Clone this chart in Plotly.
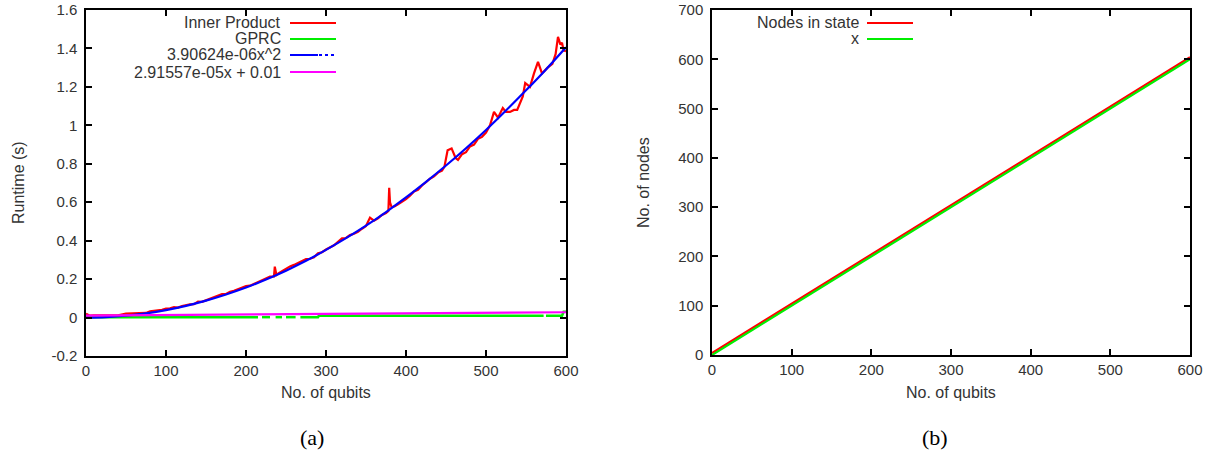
import plotly.graph_objects as go

W, H = 1217, 456

# ---------------- Panel (a) data ----------------
ip_x = [0, 5, 10, 20, 30, 40, 50, 55, 60, 65, 70, 75, 80, 85, 90, 95, 100, 105, 110, 115, 120, 125,
        130, 135, 140, 145, 150, 155, 160, 165, 170, 175, 180, 185, 190, 195, 200, 205, 210, 215,
        220, 225, 230, 235, 236, 238, 240, 245, 250, 255, 260, 265, 270, 275, 280, 285, 290, 295,
        300, 305, 310, 315, 320, 325, 330, 335, 340, 345, 350, 355, 360, 365, 370, 375, 378, 379,
        380, 382, 386, 390, 395, 400, 405, 410, 415, 420, 425, 430, 435, 440, 445, 448, 452, 457,
        462, 465, 470, 475, 480, 485, 490, 495, 500, 505, 510, 515, 521, 525, 530, 535, 539, 546,
        549, 555, 560, 565, 570, 577, 583, 587, 590, 593, 595, 597, 600]
ip_y = [0.02, 0.01, 0.011, 0.011, 0.012, 0.012, 0.02, 0.021, 0.021, 0.022, 0.022, 0.024, 0.032, 0.034,
        0.038, 0.04, 0.046, 0.048, 0.054, 0.052, 0.06, 0.065, 0.069, 0.07, 0.083, 0.082, 0.09, 0.098,
        0.104, 0.111, 0.122, 0.123, 0.134, 0.139, 0.146, 0.153, 0.164, 0.166, 0.175, 0.183, 0.194, 0.203,
        0.213, 0.214, 0.265, 0.222, 0.229, 0.241, 0.254, 0.266, 0.274, 0.284, 0.29, 0.304, 0.306, 0.314,
        0.334, 0.34, 0.354, 0.364, 0.376, 0.394, 0.412, 0.414, 0.429, 0.436, 0.446, 0.462, 0.476, 0.52,
        0.504, 0.516, 0.534, 0.544, 0.554, 0.675, 0.6, 0.574, 0.579, 0.589, 0.602, 0.616, 0.634, 0.656,
        0.664, 0.687, 0.704, 0.722, 0.734, 0.754, 0.764, 0.784, 0.87, 0.88, 0.83, 0.82, 0.85, 0.86,
        0.89, 0.9, 0.93, 0.94, 0.962, 1.0, 1.07, 1.04, 1.09, 1.07, 1.07, 1.08, 1.08, 1.15, 1.22, 1.2,
        1.27, 1.33, 1.27, 1.3, 1.32, 1.37, 1.46, 1.42, 1.43, 1.39, 1.385]

gprc_x = [0, 40, 80, 120, 160, 200, 215, None, 220, 230, None, 237, 245, None, 250, 262, None,
          268, 290, 291, 350, 400, 450, 500, 550, 572, None, 575, 595, 597, 600]
gprc_y = [0.002, 0.002, 0.002, 0.002, 0.002, 0.002, 0.002, None, 0.002, 0.002, None, 0.002, 0.002, None,
          0.002, 0.002, None, 0.002, 0.002, 0.009, 0.009, 0.009, 0.009, 0.009, 0.009, 0.009, None,
          0.009, 0.009, 0.03, 0.03]

quad_x = [0, 25, 50, 75, 100, 125, 150, 175, 200, 225, 250, 275, 300, 325, 350, 375, 400, 425,
          450, 475, 500, 525, 550, 575, 600]
quad_y = [0.0, 0.0024, 0.0098, 0.022, 0.039, 0.061, 0.088, 0.120, 0.156, 0.198, 0.244, 0.295,
          0.352, 0.413, 0.478, 0.549, 0.625, 0.706, 0.791, 0.881, 0.976, 1.077, 1.182, 1.291, 1.406]

lin_x = [0, 600]
lin_y = [0.01, 0.0275]

# ---------------- Panel (b) data ----------------
nodes_x = [0, 50, 100, 150, 200, 250, 300, 350, 400, 450, 500, 550, 600]
nodes_y = [4, 54, 104, 154, 204, 254, 304, 354, 404, 454, 504, 554, 604]
ref_x = [0, 600]
ref_y = [0, 600]

# ---------------- text ----------------
legend_a = ["Inner Product", "GPRC", "3.90624e-06x^2", "2.91557e-05x + 0.01"]
legend_b = ["Nodes in state", "x"]
colors_a = ["#ff0000", "#00ee00", "#0000ff", "#ff00ff"]
colors_b = ["#ff0000", "#00ee00"]
ya_ticks = [-0.2, 0, 0.2, 0.4, 0.6, 0.8, 1, 1.2, 1.4, 1.6]
ya_labels = ["-0.2", "0", "0.2", "0.4", "0.6", "0.8", "1", "1.2", "1.4", "1.6"]

# ---------------- geometry (pixels) ----------------
AX_L = (86, 566)
AX_R = (712, 1190)
Y_TOP, Y_BOT = 10, 356


def px(x):
    return x / W


def py(y):
    return 1 - y / H


fig = go.Figure()
lw = 2.2
fig.add_trace(go.Scatter(x=ip_x, y=ip_y, mode="lines", line=dict(color=colors_a[0], width=lw),
                         xaxis="x", yaxis="y", showlegend=False))
fig.add_trace(go.Scatter(x=gprc_x, y=gprc_y, mode="lines", line=dict(color=colors_a[1], width=2.5),
                         xaxis="x", yaxis="y", showlegend=False, connectgaps=False))
fig.add_trace(go.Scatter(x=quad_x, y=quad_y, mode="lines", line=dict(color=colors_a[2], width=2.2, shape="spline"),
                         xaxis="x", yaxis="y", showlegend=False))
fig.add_trace(go.Scatter(x=lin_x, y=lin_y, mode="lines", line=dict(color=colors_a[3], width=lw),
                         xaxis="x", yaxis="y", showlegend=False))

fig.add_trace(go.Scatter(x=nodes_x, y=nodes_y, mode="lines", line=dict(color=colors_b[0], width=lw),
                         xaxis="x2", yaxis="y2", showlegend=False))
fig.add_trace(go.Scatter(x=ref_x, y=ref_y, mode="lines", line=dict(color=colors_b[1], width=lw),
                         xaxis="x2", yaxis="y2", showlegend=False))

font = "Liberation Sans, Arial, sans-serif"
tickfont = dict(family=font, size=15, color="#333")
axcommon = dict(showline=True, linecolor="black", linewidth=1.5, mirror="allticks", ticks="inside",
                ticklen=6, tickwidth=1.5, tickcolor="black", showgrid=False, zeroline=False,
                tickfont=tickfont, automargin=False)

fig.update_layout(
    width=W, height=H, margin=dict(l=0, r=0, t=0, b=0, pad=0, autoexpand=False),
    paper_bgcolor="white", plot_bgcolor="white", showlegend=False,
    xaxis=dict(domain=[px(AX_L[0]), px(AX_L[1])], range=[0, 600], dtick=100, anchor="y", **axcommon),
    yaxis=dict(domain=[py(Y_BOT), py(Y_TOP)], range=[-0.2, 1.6], tickvals=ya_ticks, ticktext=ya_labels,
               anchor="x", ticklabelstandoff=4, **axcommon),
    xaxis2=dict(domain=[px(AX_R[0]), px(AX_R[1])], range=[0, 600], dtick=100, anchor="y2", **axcommon),
    yaxis2=dict(domain=[py(Y_BOT - 1), py(Y_TOP)], range=[0, 700], dtick=100, anchor="x2",
                ticklabelstandoff=4, **axcommon),
)

ann = []
shapes = []
lab_font = dict(family=font, size=16, color="#333")
# axis titles
ann.append(dict(text="No. of qubits", x=px((AX_L[0] + AX_L[1]) / 2), y=py(392), xref="paper", yref="paper",
                showarrow=False, font=lab_font, xanchor="center", yanchor="middle"))
ann.append(dict(text="No. of qubits", x=px((AX_R[0] + AX_R[1]) / 2), y=py(392), xref="paper", yref="paper",
                showarrow=False, font=lab_font, xanchor="center", yanchor="middle"))
ann.append(dict(text="Runtime (s)", x=px(18), y=py(183), xref="paper", yref="paper", textangle=-90,
                showarrow=False, font=lab_font, xanchor="center", yanchor="middle"))
ann.append(dict(text="No. of nodes", x=px(643), y=py(183), xref="paper", yref="paper", textangle=-90,
                showarrow=False, font=lab_font, xanchor="center", yanchor="middle"))
# captions
cap_font = dict(family="Liberation Serif, Times New Roman, serif", size=22, color="black")
ann.append(dict(text="(a)", x=px(312), y=py(437), xref="paper", yref="paper", showarrow=False,
                font=cap_font, xanchor="center", yanchor="middle"))
ann.append(dict(text="(b)", x=px(935), y=py(437), xref="paper", yref="paper", showarrow=False,
                font=cap_font, xanchor="center", yanchor="middle"))

# legends (gnuplot style: text right-aligned, sample to the right)
rows_a = [23, 39, 55, 72]
for i, (lab, c) in enumerate(zip(legend_a, colors_a)):
    yy = rows_a[i]
    ann.append(dict(text=lab, x=px(283), y=py(yy), xref="paper", yref="paper", showarrow=False,
                    font=lab_font, xanchor="right", yanchor="middle"))
    if i == 2:
        shapes.append(dict(type="line", xref="paper", yref="paper", x0=px(290), x1=px(318),
                           y0=py(yy), y1=py(yy), line=dict(color=c, width=2)))
        shapes.append(dict(type="line", xref="paper", yref="paper", x0=px(319), x1=px(336),
                           y0=py(yy), y1=py(yy), line=dict(color=c, width=2, dash="dot")))
    else:
        shapes.append(dict(type="line", xref="paper", yref="paper", x0=px(290), x1=px(336),
                           y0=py(yy), y1=py(yy), line=dict(color=c, width=2)))

rows_b = [23, 39]
for i, (lab, c) in enumerate(zip(legend_b, colors_b)):
    yy = rows_b[i]
    ann.append(dict(text=lab, x=px(861), y=py(yy), xref="paper", yref="paper", showarrow=False,
                    font=lab_font, xanchor="right", yanchor="middle"))
    shapes.append(dict(type="line", xref="paper", yref="paper", x0=px(867), x1=px(913),
                       y0=py(yy), y1=py(yy), line=dict(color=c, width=2)))

fig.update_layout(annotations=ann, shapes=shapes)
fig.write_html("out.html", config={"displayModeBar": False},
               post_script="document.body.style.margin='0px';document.body.style.overflow='hidden';")
